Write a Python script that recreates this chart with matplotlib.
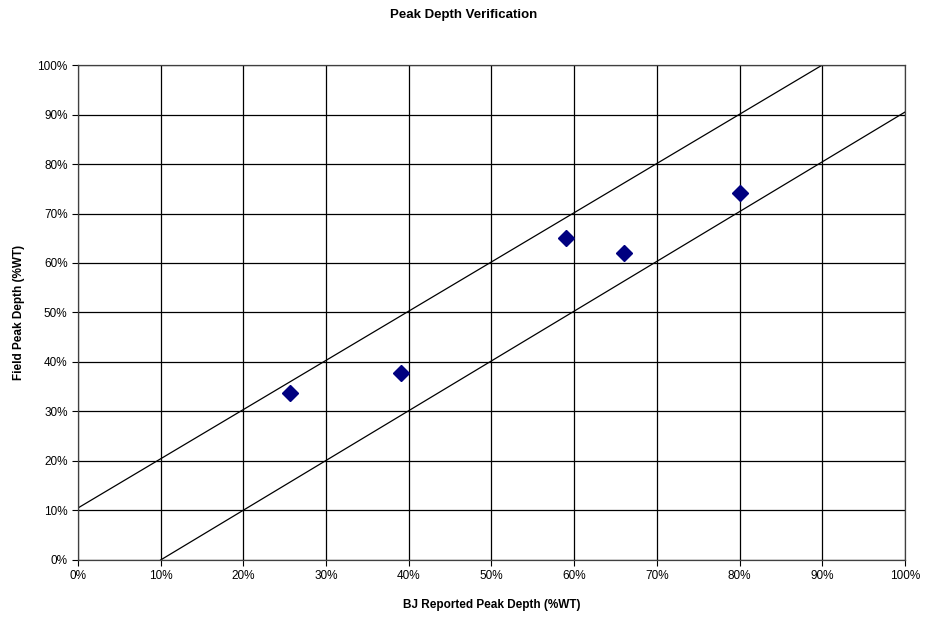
import matplotlib
matplotlib.use('Agg')
import matplotlib.pyplot as plt
from matplotlib.ticker import PercentFormatter

plt.rcParams['font.family'] = ['Liberation Sans', 'DejaVu Sans']

# reported vs field peak depth (%WT)
bj_reported = [25.6, 39.0, 59.0, 66.0, 80.0]
field_depth = [33.8, 37.8, 65.0, 62.1, 74.1]

# +/- 10% tolerance band lines
upper_x = [0, 90]
upper_y = [10.5, 100]
lower_x = [10, 100]
lower_y = [0, 90.5]

ticks = list(range(0, 101, 10))

fig = plt.figure(figsize=(9.27, 6.18), dpi=100)
ax = fig.add_axes([0.0841, 0.0939, 0.8922, 0.8009])

ax.plot(upper_x, upper_y, color='black', linewidth=0.9, zorder=2)
ax.plot(lower_x, lower_y, color='black', linewidth=0.9, zorder=2)
ax.plot(bj_reported, field_depth, linestyle='none', marker='D', markersize=8,
        color='#000080', zorder=3)

ax.set_xlim(0, 100)
ax.set_ylim(0, 100)
ax.set_xticks(ticks)
ax.set_yticks(ticks)
ax.xaxis.set_major_formatter(PercentFormatter(decimals=0))
ax.yaxis.set_major_formatter(PercentFormatter(decimals=0))
ax.tick_params(labelsize=8.5, length=4, width=0.8, color='black')
ax.grid(True, color='black', linewidth=0.9)
ax.set_axisbelow(True)
for s in ax.spines.values():
    s.set_linewidth(0.9)
    s.set_color('#404040')

ax.set_xlabel('BJ Reported Peak Depth (%WT)', fontsize=8.5, fontweight='bold', labelpad=12)
ax.set_ylabel('Field Peak Depth (%WT)', fontsize=8.5, fontweight='bold', labelpad=9)
fig.suptitle('Peak Depth Verification', fontsize=9.5, fontweight='bold',
             y=1 - 15 / 618, va='center')

fig.savefig('out.png', dpi=100)
